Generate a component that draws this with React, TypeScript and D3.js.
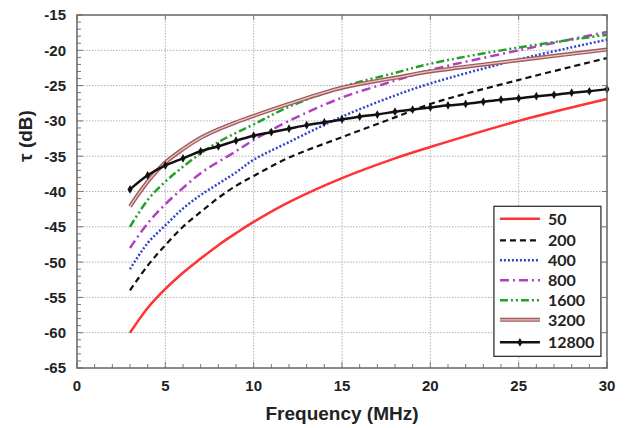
import React, { useRef, useEffect } from 'react';
import * as d3 from 'd3';

const WIDTH = 625;
const HEIGHT = 428;
const MARGIN = { top: 15, right: 18, bottom: 60, left: 77 };

// frequency samples (MHz)
const FREQ = [3, 4, 5, 6, 7, 8, 9, 10, 12, 15, 18, 20, 25, 30];
const FREQ_12800 = [3, 4, 5, 6, 7, 8, 9, 10, 11, 12, 13, 14, 15, 16, 17, 18, 19, 20, 21, 22, 23, 24, 25, 26, 27, 28, 29, 30];

const S50 = [-60, -56.5, -53.8, -51.5, -49.5, -47.6, -45.9, -44.3, -41.5, -38.1, -35.3, -33.7, -30.0, -26.9];
const S200 = [-54, -50.5, -47.6, -45.0, -42.9, -40.9, -39.2, -37.8, -35.2, -32.3, -29.5, -27.6, -24.2, -21.1];
const S400 = [-51, -47.3, -44.8, -42.4, -40.5, -38.9, -37.3, -35.5, -33.0, -29.4, -26.4, -24.7, -21.3, -18.5];
const S800 = [-48, -44.5, -41.8, -39.5, -37.4, -35.8, -34.3, -32.7, -30.0, -26.7, -24.3, -22.8, -20.0, -17.4];
const S1600 = [-45, -41.2, -38.6, -36.5, -34.6, -33.0, -31.7, -30.5, -28.0, -25.2, -23.2, -21.9, -19.6, -17.8];
const S3200 = [-42.1, -38.6, -35.9, -34.0, -32.4, -31.2, -30.2, -29.3, -27.6, -25.3, -23.9, -23.0, -21.4, -19.9];
const S12800 = [-39.7, -37.7, -36.3, -35.3, -34.3, -33.6, -32.8, -32.1, -31.6, -31.1, -30.6, -30.2, -29.8, -29.4, -29.1, -28.7, -28.4, -28.1, -27.8, -27.6, -27.3, -27.0, -26.8, -26.5, -26.3, -26.0, -25.8, -25.5];

const SERIES_NAMES = ['50', '200', '400', '800', '1600', '3200', '12800'];

const X_TICKS = [0, 5, 10, 15, 20, 25, 30];
const Y_TICKS = [-65, -60, -55, -50, -45, -40, -35, -30, -25, -20, -15];

const STYLES = [
  { color: '#ff3333', width: 2.5, dash: null },
  { color: '#111111', width: 2.2, dash: '6,4' },
  { color: '#3344cc', width: 2.5, dash: '2,2' },
  { color: '#b040c0', width: 2.5, dash: '9,4,2,4' },
  { color: '#22a02a', width: 2.5, dash: '8,3,2,3,2,3' },
  { color: '#a05a5a', width: 4, dash: null, inner: '#e8c8c8' },
  { color: '#111111', width: 2.5, dash: null, marker: true },
];

export default function App() {
  const svgRef = useRef<SVGSVGElement>(null);

  useEffect(() => {
    if (!svgRef.current) return;
    const innerW = WIDTH - MARGIN.left - MARGIN.right;
    const innerH = HEIGHT - MARGIN.top - MARGIN.bottom;

    const xScale = d3.scaleLinear().domain([0, 30]).range([0, innerW]);
    const yScale = d3.scaleLinear().domain([-65, -15]).range([innerH, 0]);

    const svg = d3.select(svgRef.current);
    svg.selectAll('*').remove();
    const g = svg.append('g').attr('transform', `translate(${MARGIN.left},${MARGIN.top})`);

    g.append('rect').attr('width', innerW).attr('height', innerH).attr('fill', '#fff');

    // Grid
    g.append('g').selectAll('line')
      .data(Y_TICKS.slice(1, -1))
      .join('line')
      .attr('x1', 0).attr('x2', innerW)
      .attr('y1', d => yScale(d)).attr('y2', d => yScale(d))
      .attr('stroke', '#b0b0b0').attr('stroke-width', 1).attr('stroke-dasharray', '1.5,1.5');
    g.append('g').selectAll('line')
      .data(X_TICKS.slice(1, -1))
      .join('line')
      .attr('y1', 0).attr('y2', innerH)
      .attr('x1', d => xScale(d)).attr('x2', d => xScale(d))
      .attr('stroke', '#b0b0b0').attr('stroke-width', 1).attr('stroke-dasharray', '1.5,1.5');

    // Minor / major ticks (inside)
    const minorX = d3.range(0, 31, 1);
    const minorY = d3.range(-65, -14, 1);
    const tickG = g.append('g').attr('stroke', '#777').attr('stroke-width', 1);
    tickG.selectAll('.mx').data(minorX).join('line')
      .attr('x1', d => xScale(d)).attr('x2', d => xScale(d))
      .attr('y1', innerH).attr('y2', d => innerH - (d % 5 === 0 ? 6 : 4));
    tickG.selectAll('.my').data(minorY).join('line')
      .attr('y1', d => yScale(d)).attr('y2', d => yScale(d))
      .attr('x1', 0).attr('x2', d => (d % 5 === 0 ? 6 : 4));
    tickG.selectAll('.ry').data(Y_TICKS).join('line')
      .attr('y1', d => yScale(d)).attr('y2', d => yScale(d))
      .attr('x1', innerW).attr('x2', innerW - 5);
    tickG.selectAll('.tx').data(X_TICKS).join('line')
      .attr('x1', d => xScale(d)).attr('x2', d => xScale(d))
      .attr('y1', 0).attr('y2', 5);

    // Series
    const all = [S50, S200, S400, S800, S1600, S3200];
    const line = d3.line<[number, number]>()
      .x(d => xScale(d[0]))
      .y(d => yScale(d[1]))
      .curve(d3.curveCatmullRom.alpha(0.5));

    all.forEach((vals, i) => {
      const st = STYLES[i];
      const pts = FREQ.map((f, k) => [f, vals[k]] as [number, number]);
      const p = g.append('path').datum(pts)
        .attr('d', line)
        .attr('fill', 'none')
        .attr('stroke', st.color)
        .attr('stroke-width', st.width);
      if (st.dash) p.attr('stroke-dasharray', st.dash);
      if (st.inner) {
        g.append('path').datum(pts).attr('d', line)
          .attr('fill', 'none').attr('stroke', st.inner).attr('stroke-width', 1.3);
      }
    });

    const pts128 = FREQ_12800.map((f, k) => [f, S12800[k]] as [number, number]);
    g.append('path').datum(pts128)
      .attr('d', line)
      .attr('fill', 'none').attr('stroke', '#111').attr('stroke-width', 2.5);
    g.append('g').selectAll('path').data(pts128).join('path')
      .attr('transform', d => `translate(${xScale(d[0])},${yScale(d[1])})`)
      .attr('d', d3.symbol().type(d3.symbolDiamond).size(22)())
      .attr('fill', '#111');

    // Frame
    g.append('rect').attr('width', innerW).attr('height', innerH)
      .attr('fill', 'none').attr('stroke', '#666').attr('stroke-width', 1.5);

    // Axis labels
    const font = "'Liberation Sans', Arial, sans-serif";
    g.append('g').selectAll('text').data(X_TICKS).join('text')
      .attr('x', d => xScale(d)).attr('y', innerH + 23)
      .attr('text-anchor', 'middle')
      .attr('font-family', font).attr('font-weight', 700).attr('font-size', 15).attr('fill', '#222')
      .text(d => d);
    g.append('g').selectAll('text').data(Y_TICKS).join('text')
      .attr('x', -11).attr('y', d => yScale(d)).attr('dy', '0.36em')
      .attr('text-anchor', 'end')
      .attr('font-family', font).attr('font-weight', 700).attr('font-size', 15).attr('fill', '#222')
      .text(d => d);

    g.append('text')
      .attr('x', innerW / 2).attr('y', innerH + 52)
      .attr('text-anchor', 'middle')
      .attr('font-family', font).attr('font-weight', 700).attr('font-size', 19).attr('fill', '#222')
      .text('Frequency (MHz)');

    svg.append('text')
      .attr('transform', `translate(32,136) rotate(-90)`)
      .attr('text-anchor', 'middle')
      .attr('font-family', font).attr('font-weight', 700).attr('font-size', 19).attr('fill', '#222')
      .text('τ (dB)');

    // Legend
    const lx = xScale(23.6), ly = yScale(-42.1);
    const lw = 107, lh = 150;
    const leg = g.append('g').attr('transform', `translate(${lx},${ly})`);
    leg.append('rect').attr('width', lw).attr('height', lh)
      .attr('fill', '#fff').attr('stroke', '#333').attr('stroke-width', 1.3);
    const rowY = [12.5, 34, 54, 74, 94, 113.5, 136];
    SERIES_NAMES.forEach((name, i) => {
      const st = STYLES[i];
      const y = rowY[i];
      const l = leg.append('line').attr('x1', 6).attr('x2', 46).attr('y1', y).attr('y2', y)
        .attr('stroke', st.color).attr('stroke-width', st.width);
      if (st.dash) l.attr('stroke-dasharray', st.dash);
      if (st.inner) {
        leg.append('line').attr('x1', 6).attr('x2', 46).attr('y1', y).attr('y2', y)
          .attr('stroke', st.inner).attr('stroke-width', 1.3);
      }
      if (st.marker) {
        leg.append('path').attr('transform', `translate(26,${y})`)
          .attr('d', d3.symbol().type(d3.symbolDiamond).size(22)()).attr('fill', '#111');
      }
      leg.append('text').attr('x', 54).attr('y', y).attr('dy', '0.36em')
        .attr('font-family', "Lato, 'Open Sans', sans-serif").attr('font-weight', 700)
        .attr('font-size', 16).attr('fill', '#222')
        .text(name);
    });
  }, []);

  return (
    <svg ref={svgRef} width={WIDTH} height={HEIGHT}
      style={{ position: 'absolute', left: 0, top: 0, background: '#fff' }} />
  );
}
